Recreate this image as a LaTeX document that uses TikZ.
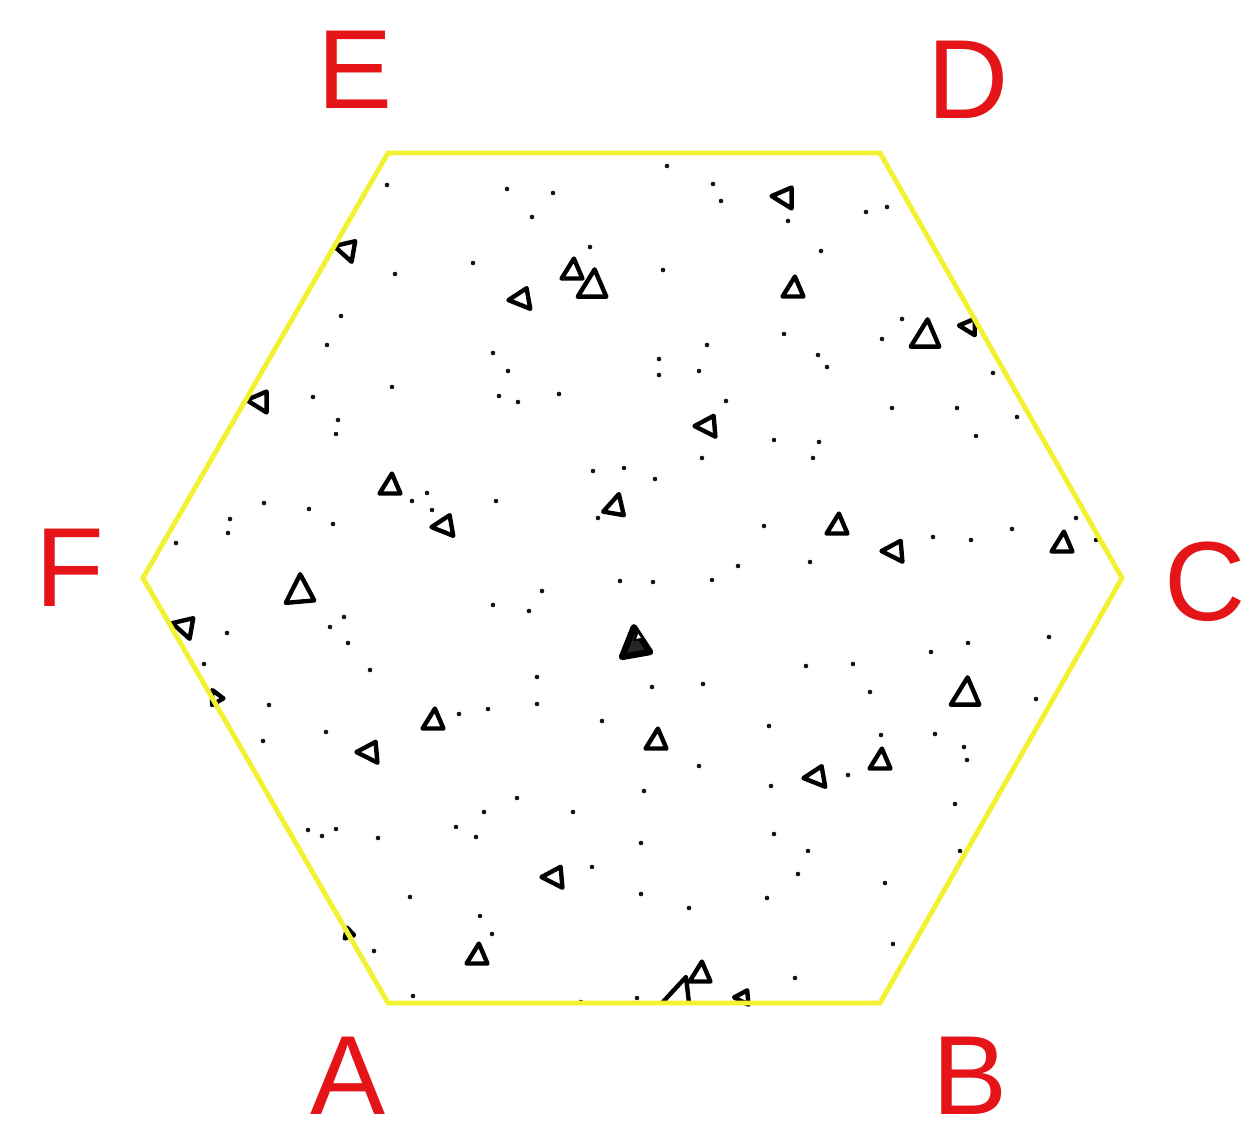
\documentclass[tikz,border=0pt]{standalone}
\usepackage{fontspec}
\setmainfont{Liberation Sans}
\usepackage{xcolor}
\usepackage{tikz}
\definecolor{LabelRed}{RGB}{228,20,24}
\definecolor{EdgeYellow}{RGB}{242,242,50}
\definecolor{DotInk}{RGB}{20,20,20}

\begin{document}
\begin{tikzpicture}[x=0.01cm, y=-0.01cm,
    trimark/.style={line width=1.25pt, draw=black, line join=round},
    corner/.style={font=\fontsize{32}{32}\selectfont, text=LabelRed, inner sep=0pt}]
      \useasboundingbox (0,0) rectangle (1245,1137);
      % scattered dots
      \foreach \x/\y in {387/185, 507/189, 553/193, 532/217, 590/247, 473/263, 395/274, 341/316,
          327/345, 493/353, 508/371, 392/387, 313/397, 499/396, 518/402, 559/394, 338/420, 336/434,
          593/471, 624/468, 427/493, 412/501, 432/510, 496/501, 264/503, 309/509, 333/524, 230/519,
          228/533, 176/543, 598/518,
          667/166, 713/184, 721/201, 788/221, 866/212, 887/207, 821/251, 663/270, 784/334, 902/319,
          882/339, 707/345, 659/359, 659/375, 699/371, 818/355, 827/367, 993/373, 726/401, 892/408,
          957/408, 1017/417, 976/436, 774/440, 819/442, 702/458, 813/458, 655/479, 764/526, 933/537,
          971/540, 1012/529, 1076/518, 1096/540, 810/562, 738/566,
          227/633, 344/617, 330/627, 348/643, 370/670, 204/664, 269/705, 263/741, 326/732, 459/714,
          488/709, 537/677, 537/704, 602/721, 493/605, 529/611, 542/591, 620/581, 517/798, 484/812,
          573/812, 456/827, 476/837, 308/830, 322/836, 336/829, 378/838, 592/867, 410/897, 480/916,
          492/934, 374/951, 413/996, 581/1002, 637/998,
          653/582, 712/580, 652/687, 703/684, 806/666, 853/664, 870/692, 931/652, 968/643, 1049/637,
          1036/699, 769/726, 699/766, 644/791, 771/786, 848/775, 881/735, 935/734, 964/747, 967/760,
          955/804, 641/843, 774/834, 808/851, 798/874, 885/883, 960/851, 641/894, 689/908, 767/898,
          893/944, 795/978}
        \fill[DotInk] (\x,\y) circle[radius=2.3];
      % triangles: centre, size, turn
      \foreach \x/\y/\s/\r in {345/250/19/80, 258/402/19/90, 520/300/19/100, 572/270/19/0,
          592/285/26/0, 390/485/19/0, 443/527/19/100, 615/505/19/-10, 299/590/26/5, 183/627/19/80,
          215/697/12/30, 433/720/19/0, 368/753/19/95, 553/878/19/95, 477/955/19/0, 348/933/9/20,
          783/198/19/90, 793/288/19/0, 925/335/26/0, 968/327/15/90, 706/427/19/95, 837/525/19/0,
          893/552/19/95, 1062/543/19/0, 656/740/19/0, 815/778/19/100, 880/760/19/0,
          965/693/26/0, 700/973/19/0, 742/998/13/95}
        \draw[trimark, shift={(\x,\y)}, rotate=\r, scale=\s]
          (0.1,-0.6) -- (-0.55,0.45) -- (0.55,0.45) -- cycle;
      % dense triangle in the middle
      \draw[trimark, line width=1.8pt, fill=black!85, shift={(634,643)}, rotate=10, scale=26]
        (0.1,-0.6) -- (-0.55,0.45) -- (0.55,0.45) -- cycle;
      \draw[trimark, line width=0.6pt, fill=white, shift={(638,636)}, rotate=10, scale=8]
        (0.1,-0.6) -- (-0.55,0.45) -- (0.55,0.45) -- cycle;
      % cut triangle on the lower edge
      \draw[trimark] (662,1003) -- (686,977) -- (689,1003);
      % hexagon
      \draw[EdgeYellow, line width=1.4pt, line join=miter]
        (388,153) -- (880,153) -- (1122,578) -- (880,1003) -- (388,1003) -- (143,578) -- cycle;
      % corner labels
      \node[corner] (labA) at (348,1076) {A};
      \node[corner] (labB) at (970,1076) {B};
      \node[corner] (labC) at (1205,582) {C};
      \node[corner] (labD) at (968,80) {D};
      \node[corner] (labE) at (355,70) {E};
      \node[corner] (labF) at (70,568) {F};
    \end{tikzpicture}
\end{document}
